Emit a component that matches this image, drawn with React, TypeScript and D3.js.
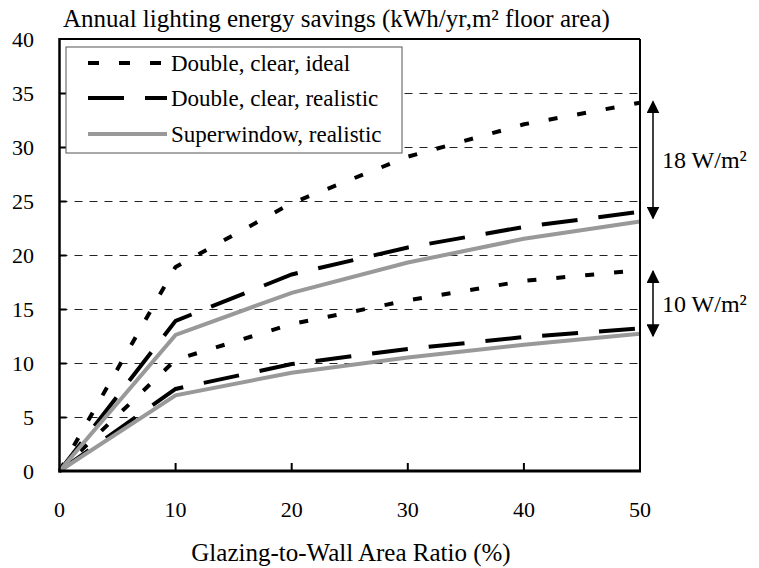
import React from "react";
import * as d3 from "d3";

const xValues = [0, 10, 20, 30, 40, 50];
const idealHigh = [0, 18.9, 24.8, 29.1, 32.1, 34.1];
const idealLow = [0, 10.3, 13.6, 15.8, 17.6, 18.6];
const realHigh = [0, 13.9, 18.2, 20.7, 22.6, 24.0];
const realLow = [0, 7.6, 9.9, 11.3, 12.4, 13.2];
const superHigh = [0, 12.6, 16.5, 19.3, 21.5, 23.1];
const superLow = [0, 7.0, 9.1, 10.5, 11.7, 12.7];
const yTicks = [0, 5, 10, 15, 20, 25, 30, 35, 40];
const xTicks = [0, 10, 20, 30, 40, 50];
const legendLabels = ["Double, clear, ideal", "Double, clear, realistic", "Superwindow, realistic"];
const annotations = [
  { label: "18 W/m²", from: 34.2, to: 23.4 },
  { label: "10 W/m²", from: 18.5, to: 12.5 },
];

const FONT = "'Liberation Serif', 'DejaVu Serif', serif";

export default function App() {
  const W = 759, H = 568;
  const x = d3.scaleLinear().domain([0, 50]).range([59.5, 640]);
  const y = d3.scaleLinear().domain([0, 40]).range([471, 39]);
  const line = d3.line<number>().x((_, i) => x(xValues[i])).y((d) => y(d));
  const crisp = (v: number) => Math.round(v) + 0.5;

  const styles = [
    { stroke: "#000", width: 4, dash: "9,20" },
    { stroke: "#000", width: 4, dash: "36,21" },
    { stroke: "#999", width: 4, dash: "" },
  ];
  const series = [
    { data: idealHigh, s: 0 },
    { data: idealLow, s: 0 },
    { data: realHigh, s: 1 },
    { data: realLow, s: 1 },
    { data: superHigh, s: 2 },
    { data: superLow, s: 2 },
  ];
  const [x0, x1] = x.range();
  const [yb, yt] = y.range();
  const arrowX = 653;

  return (
    <svg width={W} height={H} style={{ position: "absolute", left: 0, top: 0 }} fontFamily={FONT}>
      <rect x={0} y={0} width={W} height={H} fill="#fff" />
      {/* gridlines */}
      {yTicks.filter((t) => t > 0 && t < 40).map((t) => (
        <line key={t} x1={x0} x2={x1} y1={crisp(y(t))} y2={crisp(y(t))} stroke="#222" strokeWidth={1} strokeDasharray="8,7" />
      ))}
      {/* series */}
      {series.map((se, i) => (
        <path key={i} d={line(se.data) || ""} fill="none" stroke={styles[se.s].stroke}
          strokeWidth={styles[se.s].width} strokeDasharray={styles[se.s].dash} strokeLinejoin="miter" />
      ))}
      {/* frame */}
      <line x1={x0} x2={x1} y1={yt} y2={yt} stroke="#000" strokeWidth={2} />
      <line x1={x1} x2={x1} y1={yt} y2={yb} stroke="#000" strokeWidth={2} />
      <line x1={x0} x2={x0} y1={yt - 1} y2={yb + 1.5} stroke="#000" strokeWidth={2.5} />
      <line x1={x0 - 1} x2={x1 + 1} y1={yb} y2={yb} stroke="#000" strokeWidth={3} />
      {/* ticks */}
      {yTicks.filter((t) => t > 0 && t < 40).map((t) => (
        <line key={"yt" + t} x1={x0} x2={x0 + 7} y1={crisp(y(t))} y2={crisp(y(t))} stroke="#000" strokeWidth={2} />
      ))}
      {xTicks.filter((t) => t > 0 && t < 50).map((t) => (
        <line key={"xt" + t} x1={x(t)} x2={x(t)} y1={yb} y2={yb - 8} stroke="#000" strokeWidth={2} />
      ))}
      {/* tick labels */}
      {yTicks.map((t) => (
        <text key={"yl" + t} x={34} y={y(t)} dy="0.35em" textAnchor="end" fontSize={22} fill="#000">{t}</text>
      ))}
      {xTicks.map((t) => (
        <text key={"xl" + t} x={x(t)} y={509} dy="0.35em" textAnchor="middle" fontSize={22} fill="#000">{t}</text>
      ))}
      {/* titles */}
      <text x={63} y={27} fontSize={25} fill="#000">Annual lighting energy savings (kWh/yr,m² floor area)</text>
      <text x={351} y={552} dy="0.35em" textAnchor="middle" fontSize={25} fill="#000">Glazing-to-Wall Area Ratio (%)</text>
      {/* legend */}
      <rect x={66} y={47} width={336} height={106} fill="#fff" stroke="#555" strokeWidth={1} />
      {legendLabels.map((lab, i) => {
        const ly = [63, 98, 134][i];
        const st = styles[i];
        return (
          <g key={lab}>
            <line x1={88} x2={167} y1={ly} y2={ly} stroke={st.stroke} strokeWidth={st.width}
              strokeDasharray={i === 0 ? "11,20" : st.dash} />
            <text x={171} y={ly} dy="0.35em" fontSize={23} fill="#000">{lab}</text>
          </g>
        );
      })}
      {/* annotations */}
      <defs>
        <marker id="ah" viewBox="0 0 10 10" refX={9} refY={5} markerWidth={13} markerHeight={13} markerUnits="userSpaceOnUse" orient="auto-start-reverse">
          <path d="M0,0 L10,5 L0,10 Z" fill="#000" />
        </marker>
      </defs>
      {annotations.map((a) => (
        <g key={a.label}>
          <line x1={arrowX} x2={arrowX} y1={y(a.from)} y2={y(a.to)} stroke="#000" strokeWidth={1.5}
            markerStart="url(#ah)" markerEnd="url(#ah)" />
          <text x={662} y={(y(a.from) + y(a.to)) / 2} dy="0.35em" fontSize={24} fill="#000">{a.label}</text>
        </g>
      ))}
    </svg>
  );
}
